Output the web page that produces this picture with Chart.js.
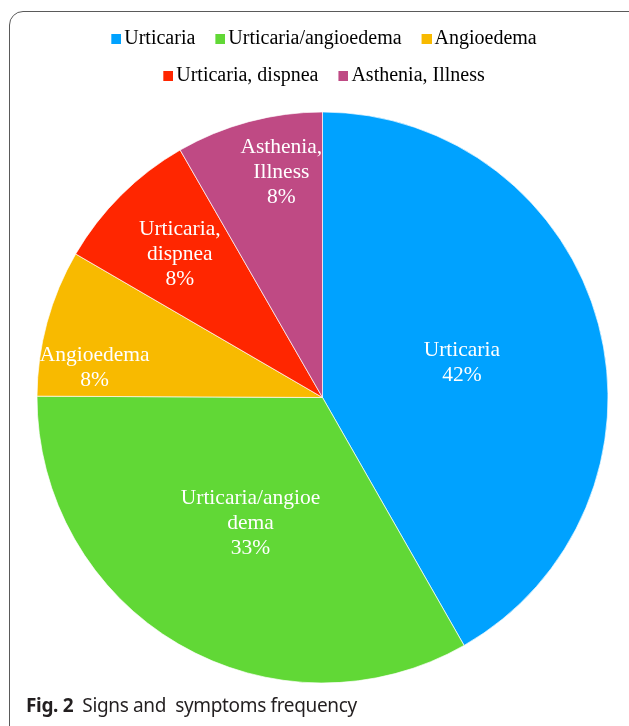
<!DOCTYPE html>
<html>
<head>
<meta charset="utf-8">
<script src="https://cdn.jsdelivr.net/npm/chart.js@4.4.1/dist/chart.umd.min.js"></script>
<style>
  html, body { margin: 0; padding: 0; background: #fff; overflow: hidden; }
  #wrap { position: relative; width: 629px; height: 726px; }
  #frame {
    position: absolute; left: 9px; top: 11px; width: 640px; height: 730px;
    border: 1.3px solid #5a5a5a; border-radius: 14px; box-sizing: border-box;
  }
  #chart { position: absolute; left: 0; top: 0; }
  #caption {
    position: absolute; left: 26px; top: 692px;
    font-family: "Noto Sans", sans-serif; font-size: 19px; color: #231f20;
    letter-spacing: -0.35px; white-space: pre;
  }
  #caption b { font-weight: 700; }
</style>
</head>
<body>
<div id="wrap">
  <div id="frame"></div>
  <canvas id="chart" width="629" height="726"></canvas>
  <div id="caption"><b>Fig. 2</b>  Signs and  symptoms frequency</div>
</div>
<script>
// Categories and values (share of patients, %)
const categories = ['Urticaria', 'Urticaria/angioedema', 'Angioedema', 'Urticaria, dispnea', 'Asthenia, Illness'];
const values = [41.7, 33.3, 8.3, 8.3, 8.3];
// How the names are broken inside the slices
const sliceLines = [
    ['Urticaria'],
    ['Urticaria/angioe', 'dema'],
    ['Angioedema'],
    ['Urticaria,', 'dispnea'],
    ['Asthenia,', 'Illness']
];
const colors = ['#00A2FF', '#61D836', '#F8BA00', '#FF2600', '#BF4A84'];

// Label placement inside slices: fraction of radius, angle shift in degrees
const labelRadius = [0.505, 0.5, 0.806, 0.715, 0.81];
const labelShift = [0, 0, -7.3, 0.5, 4.7];

// Small square swatch for the legend (drawn on the right half so the text sits close)
function makeSwatch(color) {
    const c = document.createElement('canvas');
    c.width = 20;
    c.height = 10;
    const g = c.getContext('2d');
    g.fillStyle = color;
    g.fillRect(10, 0, 10, 10);
    return c;
}
const swatches = colors.map(makeSwatch);

// Plugin to write the name and percentage in each slice
const sliceLabels = {
    id: 'sliceLabels',
    afterDatasetsDraw(chart) {
        const ctx = chart.ctx;
        const meta = chart.getDatasetMeta(0);
        const data = chart.data.datasets[0].data;
        const total = data.reduce((a, b) => a + b, 0);
        ctx.save();
        ctx.fillStyle = '#ffffff';
        ctx.font = '21.5px "Liberation Serif", "Times New Roman", serif';
        ctx.textAlign = 'center';
        ctx.textBaseline = 'middle';
        meta.data.forEach((arc, i) => {
            const p = arc.getProps(['x', 'y', 'startAngle', 'endAngle', 'outerRadius'], true);
            const mid = (p.startAngle + p.endAngle) / 2 + labelShift[i] * Math.PI / 180;
            const r = p.outerRadius * labelRadius[i];
            const cx = p.x + Math.cos(mid) * r;
            const cy = p.y + Math.sin(mid) * r + 2.5;
            const lines = sliceLines[i].concat([Math.round(data[i] / total * 100) + '%']);
            const lh = 25;
            lines.forEach((t, k) => {
                ctx.fillText(t, cx, cy + (k - (lines.length - 1) / 2) * lh);
            });
        });
        ctx.restore();
    }
};

const ctx = document.getElementById('chart').getContext('2d');
new Chart(ctx, {
    type: 'pie',
    data: {
        labels: categories,
        datasets: [{
            data: values,
            backgroundColor: colors,
            borderColor: 'rgba(255,255,255,0.85)',
            borderWidth: 0.8,
            radius: 285.5
        }]
    },
    options: {
        responsive: false,
        animation: false,
        layout: { padding: { top: 12, left: 16, right: 0, bottom: 27 } },
        plugins: {
            legend: {
                display: true,
                position: 'top',
                labels: {
                    usePointStyle: true,
                    pointStyleWidth: 6,
                    boxHeight: 10,
                    padding: 17,
                    color: '#1a1a1a',
                    font: { family: '"Liberation Serif", "Times New Roman", serif', size: 20 },
                    generateLabels(chart) {
                        return chart.data.labels.map((l, i) => ({
                            text: l,
                            fillStyle: colors[i],
                            strokeStyle: colors[i],
                            pointStyle: swatches[i],
                            lineWidth: 0,
                            index: i
                        }));
                    }
                }
            },
            tooltip: { enabled: false }
        }
    },
    plugins: [sliceLabels]
});
</script>
</body>
</html>
